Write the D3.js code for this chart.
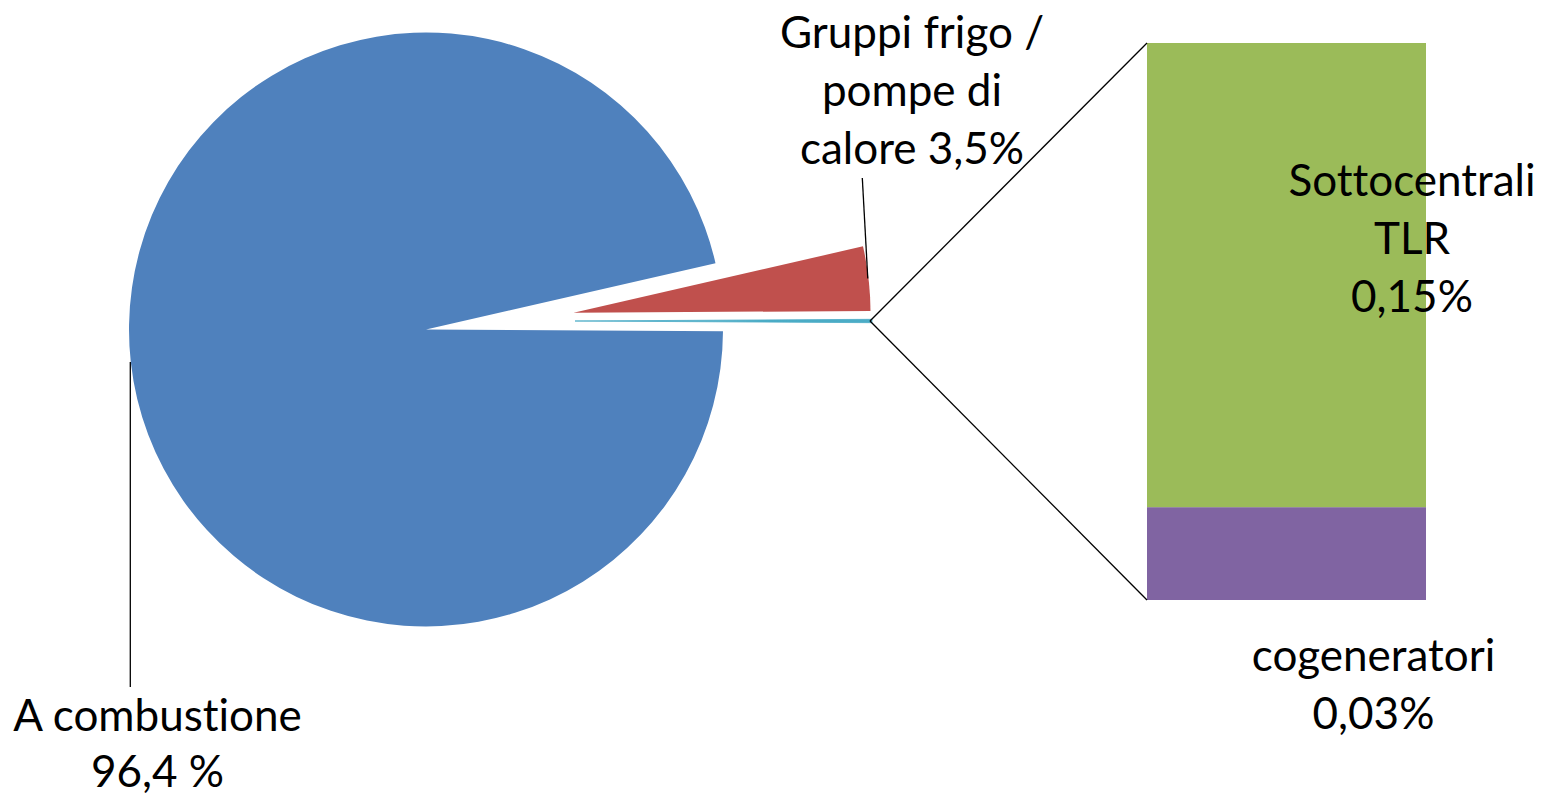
<!DOCTYPE html>
<html>
<head>
<meta charset="utf-8">
<script src="https://cdn.jsdelivr.net/npm/d3@7"></script>
<style>
  html, body { margin: 0; padding: 0; background: #ffffff; }
  svg { display: block; }
  text { font-family: "Lato", "Carlito", "Calibri", sans-serif; fill: #000;
         font-variant-ligatures: none; font-feature-settings: "liga" 0, "clig" 0; }
</style>
</head>
<body>
<svg id="chart" width="1541" height="798"></svg>
<script>
// Pie: main categories (percent); the last slice is the aggregated "other" part
const pieCategories = ["A combustione", "Gruppi frigo / pompe di calore", "Altro"];
const pieValues = [96.4, 3.5, 0.18];
const pieColors = ["#4F81BD", "#C0504D", "#4BACC6"];

// Bar: breakdown of the "other" slice (percent)
const barCategories = ["Sottocentrali TLR", "cogeneratori"];
const barValues = [0.15, 0.03];
const barColors = ["#9BBB59", "#8064A2"];

// Label texts (one entry per line)
const pieLabels = [
  ["A combustione", "96,4 %"],
  ["Gruppi frigo /", "pompe di", "calore 3,5%"]
];
const barLabels = [
  ["Sottocentrali", "TLR", "0,15%"],
  ["cogeneratori", "0,03%"]
];

const svg = d3.select("#chart");

// ---- pie geometry ----
const cx = 426, cy = 329.5, r = 297;
const total = d3.sum(pieValues);
const otherSpan = pieValues[2] / total * 2 * Math.PI;
// rotate so that the "other" slice is centred on the right-hand horizontal
const start = Math.PI / 2 + otherSpan / 2;
const pie = d3.pie().sort(null).value(d => d).startAngle(start).endAngle(start + 2 * Math.PI);
const arcs = pie(pieValues);
const arcGen = d3.arc().innerRadius(0).outerRadius(r);

// exploded offsets (px) of the pulled-out slices
const explode = [[0, 0], [147.5, -16.8], [149, -8.5]];

const pieG = svg.append("g");
arcs.forEach((a, i) => {
  pieG.append("path")
    .attr("d", arcGen(a))
    .attr("transform", `translate(${cx + explode[i][0]},${cy + explode[i][1]})`)
    .attr("fill", pieColors[i])
    .attr("stroke", i === 2 ? pieColors[i] : "none")
    .attr("stroke-width", i === 2 ? 0.8 : 0);
});

// ---- bar (stacked) ----
const barX = 1147, barW = 279;
const y = d3.scaleLinear().domain([0, d3.sum(barValues)]).range([600, 43]);
// bottom-up: cogeneratori at bottom, Sottocentrali above
const stackOrder = [1, 0];
let acc = 0;
const barG = svg.append("g");
stackOrder.forEach(i => {
  const y0 = acc, y1 = acc + barValues[i];
  acc = y1;
  barG.append("rect")
    .attr("x", barX)
    .attr("y", y(y1))
    .attr("width", barW)
    .attr("height", y(y0) - y(y1))
    .attr("fill", barColors[i]);
});

// ---- connector lines from the "other" slice to the bar ----
const o = arcs[2];
const oMid = (o.startAngle + o.endAngle) / 2;
const ox = cx + explode[2][0] + r * Math.sin(oMid) - 2;
const oy = cy + explode[2][1] - r * Math.cos(oMid);
const lineG = svg.append("g").attr("stroke", "#000").attr("stroke-width", 1.3).attr("fill", "none");
lineG.append("line").attr("x1", ox).attr("y1", oy).attr("x2", barX).attr("y2", y(d3.sum(barValues)));
lineG.append("line").attr("x1", ox).attr("y1", oy).attr("x2", barX).attr("y2", y(0));

// ---- leader lines ----
lineG.append("line").attr("x1", 130.3).attr("y1", 362).attr("x2", 130.3).attr("y2", 687);
lineG.append("line").attr("x1", 862.3).attr("y1", 178).attr("x2", 867.8).attr("y2", 278.5);

// ---- labels ----
const fs = 44;
function block(lines, x, firstBaseline, lh) {
  const t = svg.append("text").attr("text-anchor", "middle").attr("font-size", fs);
  lines.forEach((s, k) => {
    t.append("tspan").attr("x", x).attr("y", firstBaseline + k * lh).text(s);
  });
}
block(pieLabels[0], 157.5, 731, 56);
block(pieLabels[1], 912, 48, 58);
block(barLabels[0], 1412, 196, 58);
block(barLabels[1], 1373.5, 671, 58);
</script>
</body>
</html>
